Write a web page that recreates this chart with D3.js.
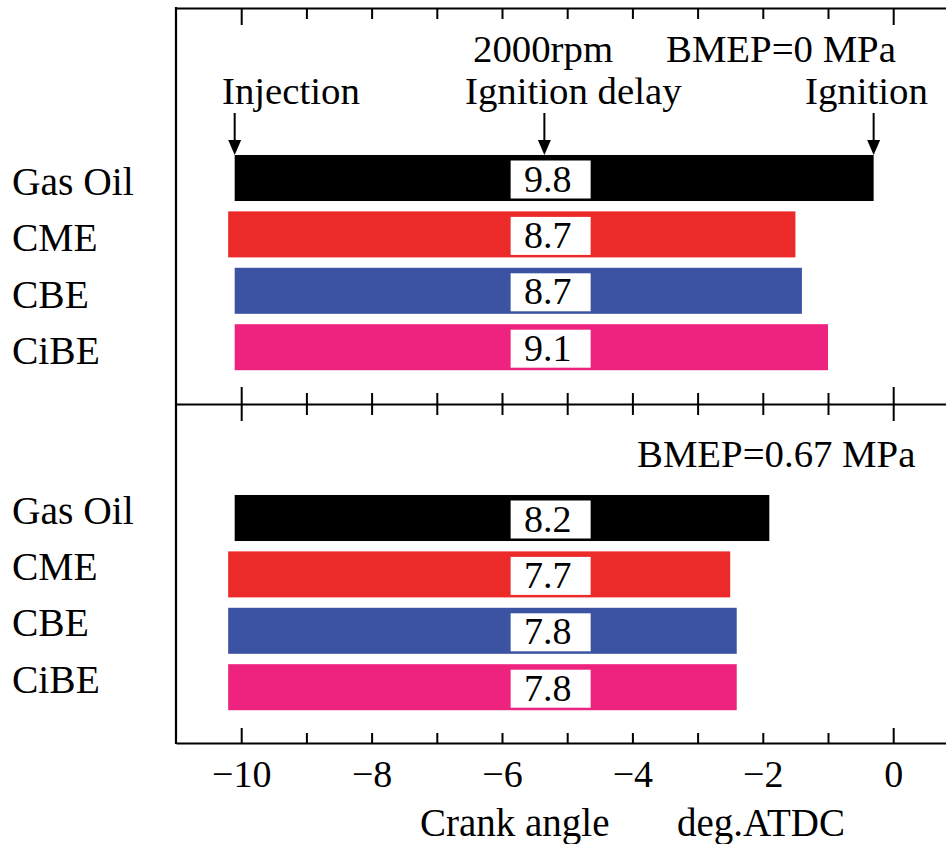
<!DOCTYPE html>
<html>
<head>
<meta charset="utf-8">
<script src="https://cdn.jsdelivr.net/npm/d3@7"></script>
<style>
  body { margin: 0; background: #fff; }
  svg { display: block; font-family: "Liberation Serif", "Times New Roman", serif; }
</style>
</head>
<body>
<svg id="chart" width="946" height="844"></svg>
<script>
// 연료별 분사/착화 시점 (deg.ATDC)
const fuels = ['Gas Oil', 'CME', 'CBE', 'CiBE'];
const colors = ['#000000', '#ED2A2A', '#3B53A2', '#EE227F'];

const injectionBmep0 = [-10.1, -10.2, -10.1, -10.1];
const ignitionBmep0  = [-0.3, -1.5, -1.4, -1.0];
const delayBmep0     = [9.8, 8.7, 8.7, 9.1];

const injectionBmep67 = [-10.1, -10.2, -10.2, -10.2];
const ignitionBmep67  = [-1.9, -2.5, -2.4, -2.4];
const delayBmep67     = [8.2, 7.7, 7.8, 7.8];

const xTicks = [-10, -8, -6, -4, -2, 0];
const minorTicks = d3.range(-10, 1, 1);
const delayLabelAt = -5.3;

const FONT = 38;
const svg = d3.select('#chart');

const x = d3.scaleLinear().domain([-11, 1]).range([176, 958.4]);

const panels = [
  { top: 149.8, inj: injectionBmep0, ign: ignitionBmep0, delay: delayBmep0, labelDy: 17 },
  { top: 489.8, inj: injectionBmep67, ign: ignitionBmep67, delay: delayBmep67, labelDy: 5.5 },
];

panels.forEach(p => {
  const y = d3.scaleBand().domain(fuels)
    .range([p.top, p.top + 4 * 56.4])
    .paddingInner(0.184).paddingOuter(0.092);
  const g = svg.append('g');

  fuels.forEach((f, i) => {
    const cy = y(f) + y.bandwidth() / 2;
    g.append('rect')
      .attr('x', x(p.inj[i])).attr('y', y(f))
      .attr('width', x(p.ign[i]) - x(p.inj[i])).attr('height', y.bandwidth())
      .attr('fill', colors[i]);
    g.append('rect')
      .attr('x', x(delayLabelAt) - 37).attr('y', cy - 17.5)
      .attr('width', 80).attr('height', 38)
      .attr('fill', '#fff');
    g.append('text')
      .attr('x', x(delayLabelAt)).attr('y', cy + 13.5)
      .attr('text-anchor', 'middle').attr('font-size', FONT)
      .text(p.delay[i].toFixed(1));
    g.append('text')
      .attr('x', 12).attr('y', cy + p.labelDy)
      .attr('font-size', 39.5)
      .text(f);
  });
});

// 프레임
svg.append('line').attr('x1', 176).attr('x2', 176).attr('y1', 7).attr('y2', 744)
  .attr('stroke', '#000').attr('stroke-width', 2.2);

function styleAxis(sel) {
  sel.selectAll('path.domain').attr('stroke-width', 2.2);
  sel.selectAll('.tick line').attr('stroke-width', 2);
}

// 상단 테두리 (눈금 아래쪽)
const topAxis = svg.append('g').attr('transform', 'translate(0,8)')
  .call(d3.axisBottom(x).tickValues(minorTicks).tickSize(11).tickSizeOuter(0).tickFormat(''));
topAxis.selectAll('.tick line').attr('y2', d => (d === -10 || d === 0) ? 17 : 11);
styleAxis(topAxis);

// 중간 구분선 (양쪽 눈금)
const midAxis = svg.append('g').attr('transform', 'translate(0,404)')
  .call(d3.axisBottom(x).tickValues(minorTicks).tickSize(11).tickSizeOuter(0).tickFormat(''));
midAxis.selectAll('.tick line')
  .attr('y1', d => (d === -10 || d === 0) ? -17 : -11)
  .attr('y2', d => (d === -10 || d === 0) ? 17 : 11);
styleAxis(midAxis);

// 하단 축
const botAxis = svg.append('g').attr('transform', 'translate(0,743)')
  .call(d3.axisBottom(x).tickValues(minorTicks).tickSize(-10).tickSizeOuter(0).tickPadding(17)
    .tickFormat(d => xTicks.includes(d) ? d3.format('')(d) : ''));
botAxis.selectAll('.tick line').attr('y2', d => (d === -10 || d === 0) ? -15 : -10);
botAxis.selectAll('.tick text')
  .attr('font-size', FONT).attr('font-family', '"Liberation Serif", "Times New Roman", serif')
  .attr('fill', '#000');
styleAxis(botAxis);

svg.append('text').attr('x', 420).attr('y', 836).attr('font-size', 39).text('Crank angle');
svg.append('text').attr('x', 677).attr('y', 836).attr('font-size', 39).text('deg.ATDC');

// 주석
const notes = [
  { text: '2000rpm', x: 473, y: 62 },
  { text: 'BMEP=0 MPa', x: 666, y: 62 },
  { text: 'Injection', x: 222, y: 104 },
  { text: 'Ignition delay', x: 465, y: 104 },
  { text: 'Ignition', x: 805, y: 104 },
  { text: 'BMEP=0.67 MPa', x: 637, y: 467 },
];
notes.forEach(n => svg.append('text').attr('x', n.x).attr('y', n.y).attr('font-size', 38.8).text(n.text));

const arrowsAt = [injectionBmep0[0], delayLabelAt - 0.05, ignitionBmep0[0]];
arrowsAt.forEach(v => {
  const ax = x(v);
  svg.append('line').attr('x1', ax).attr('x2', ax).attr('y1', 113).attr('y2', 143)
    .attr('stroke', '#000').attr('stroke-width', 2);
  svg.append('path').attr('d', `M${ax - 6.5},140 L${ax + 6.5},140 L${ax},155 Z`).attr('fill', '#000');
});
</script>
</body>
</html>
